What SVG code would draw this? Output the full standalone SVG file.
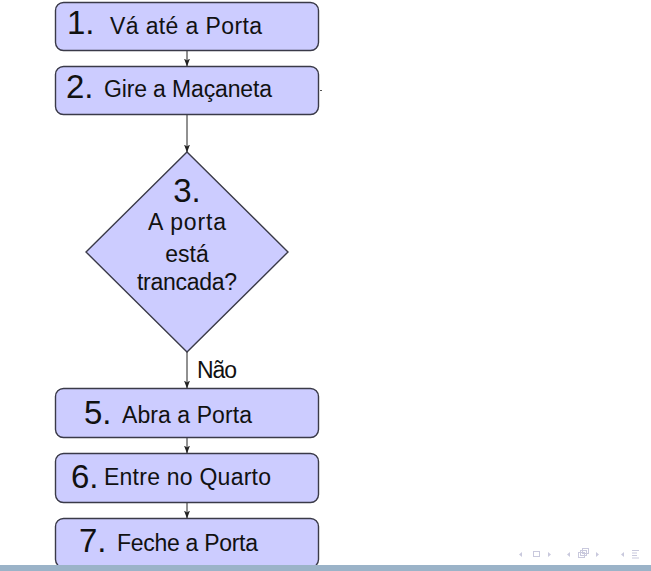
<svg xmlns="http://www.w3.org/2000/svg" width="651" height="571" viewBox="0 0 651 571">
<defs>
<style>
.box{fill:#ccccff;stroke:#3a3a48;stroke-width:1.4}
.t{font-family:"Liberation Sans",Arial,sans-serif;font-size:23px;fill:#111}
.n{font-family:"Liberation Sans",Arial,sans-serif;font-size:33px;fill:#111}
.c{stroke:#222;stroke-width:1;fill:none;marker-end:url(#ah)}
.nav{fill:none;stroke:#c9c9dd;stroke-width:1}
</style>
<marker id="ah" viewBox="0 0 8 8" refX="7.5" refY="4" markerWidth="8" markerHeight="8" markerUnits="userSpaceOnUse" orient="auto">
<path d="M0,1 L8,4 L0,7 L2,4 Z" fill="#222"/>
</marker>
</defs>
<rect width="651" height="571" fill="#fff"/>
<g id="connectors">
<line class="c" x1="187" y1="50" x2="187" y2="66"/>
<line class="c" x1="187" y1="115" x2="187" y2="152"/>
<line class="c" x1="187" y1="352" x2="187" y2="388"/>
<line class="c" x1="187" y1="438" x2="187" y2="453"/>
<line class="c" x1="187" y1="503" x2="187" y2="518"/>
<text class="t" x="197" y="378" textLength="40">Não</text>
<line x1="320" y1="90.5" x2="322" y2="90.5" stroke="#555" stroke-width="1"/>
</g>
<g id="n1">
<rect class="box" x="55.5" y="2.5" width="263" height="48" rx="8"/>
<text class="n" x="67" y="34">1.</text>
<text class="t" x="110" y="34" textLength="152">Vá até a Porta</text>
</g>
<g id="n2">
<rect class="box" x="55.5" y="66.5" width="263" height="48" rx="8"/>
<text class="n" x="66" y="98">2.</text>
<text class="t" x="104" y="97" textLength="168">Gire a Maçaneta</text>
</g>
<g id="n3">
<polygon class="box" points="187,152 288,252 187,352 86,252"/>
<text class="n" x="187" y="202" text-anchor="middle">3.</text>
<text class="t" x="187" y="230" text-anchor="middle" textLength="78">A porta</text>
<text class="t" x="187" y="262" text-anchor="middle">está</text>
<text class="t" x="187" y="290" text-anchor="middle" textLength="100">trancada?</text>
</g>
<g id="n5">
<rect class="box" x="55.5" y="388.5" width="263" height="49" rx="8"/>
<text class="n" x="84" y="424">5.</text>
<text class="t" x="122" y="423" textLength="130">Abra a Porta</text>
</g>
<g id="n6">
<rect class="box" x="55.5" y="453.5" width="263" height="49" rx="8"/>
<text class="n" x="71" y="488">6.</text>
<text class="t" x="104" y="485" textLength="167">Entre no Quarto</text>
</g>
<g id="n7">
<rect class="box" x="55.5" y="518.5" width="263" height="49" rx="8"/>
<text class="n" x="79" y="552">7.</text>
<text class="t" x="117" y="551" textLength="141">Feche a Porta</text>
</g>
<rect x="0" y="565" width="651" height="6" fill="#9bb3c8"/>
<g id="nav">
<path d="M522,552 l-3,2.5 l3,2.5 Z" fill="#c9c9dd"/>
<rect class="nav" x="533.5" y="551.5" width="6" height="5"/>
<path d="M548,552 l3,2.5 l-3,2.5 Z" fill="#c9c9dd"/>
<path d="M570,552 l-3,2.5 l3,2.5 Z" fill="#c9c9dd"/>
<rect class="nav" x="578.5" y="552.5" width="6" height="5"/>
<rect class="nav" x="580.5" y="550.5" width="6" height="5"/>
<rect class="nav" x="582.5" y="548.5" width="6" height="5"/>
<path d="M596,552 l3,2.5 l-3,2.5 Z" fill="#c9c9dd"/>
<path d="M624,552 l-3,2.5 l3,2.5 Z" fill="#c9c9dd"/>
<path class="nav" d="M632,550.5 h7 M632,553 h5 M632,555.5 h5 M632,558 h7"/>
</g>
</svg>
